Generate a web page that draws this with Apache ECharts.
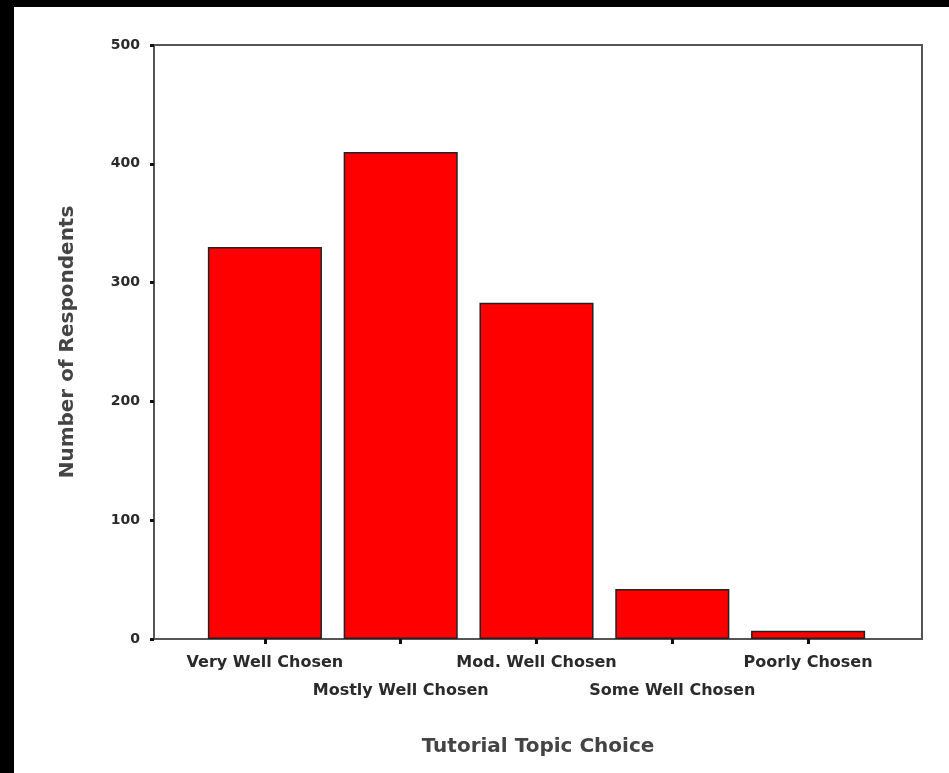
<!DOCTYPE html>
<html>
<head>
<meta charset="utf-8">
<script src="https://cdn.jsdelivr.net/npm/echarts@6/dist/echarts.min.js"></script>
<style>
html,body{margin:0;padding:0;background:#000;}
#wrap{position:absolute;left:14px;top:7px;right:0;bottom:0;background:#fff;}
#chart{position:absolute;left:0;top:0;width:949px;height:773px;}
</style>
</head>
<body>
<div id="wrap"></div>
<div id="chart"></div>
<script>
const categories = ["Very Well Chosen", "Mostly Well Chosen", "Mod. Well Chosen", "Some Well Chosen", "Poorly Chosen"];
const respondents = [330, 410, 283, 42, 7];
const yTicks = [0, 100, 200, 300, 400, 500];

const font = "DejaVu Sans";
const chart = echarts.init(document.getElementById('chart'), null, {renderer: 'canvas'});
chart.setOption({
  backgroundColor: 'transparent',
  animation: false,
  grid: [
    {left: 154, right: 27, top: 45, bottom: 134, show: false},
    {left: 197, right: 73, top: 45, bottom: 134, show: false}
  ],
  xAxis: [
    {
      gridIndex: 0, type: 'value', min: 0, max: 1,
      axisLine: {show: true, onZero: false, lineStyle: {color: '#555', width: 2}},
      axisTick: {show: false}, axisLabel: {show: false}, splitLine: {show: false},
      name: 'Tutorial Topic Choice', nameLocation: 'middle', nameGap: 98,
      nameTextStyle: {fontFamily: font, fontSize: 20, fontWeight: 'bold', color: '#444'}
    },
    {
      gridIndex: 0, type: 'value', min: 0, max: 1, position: 'top',
      axisLine: {show: true, onZero: false, lineStyle: {color: '#555', width: 2}},
      axisTick: {show: false}, axisLabel: {show: false}, splitLine: {show: false}
    },
    {
      gridIndex: 1, type: 'category', data: categories,
      axisLine: {show: false},
      axisTick: {show: true, alignWithLabel: true, length: 5, lineStyle: {color: '#111', width: 3}},
      axisLabel: {
        interval: 0, margin: 10, fontFamily: font, fontSize: 16, fontWeight: 'bold', color: '#2a2a2a',
        lineHeight: 28,
        formatter: function (v, i) { return i % 2 === 1 ? '\n' + v : v; }
      }
    }
  ],
  yAxis: [
    {
      gridIndex: 0, type: 'value', min: 0, max: 500, interval: 100,
      axisLine: {show: true, onZero: false, lineStyle: {color: '#555', width: 2}},
      axisTick: {show: true, length: 4, lineStyle: {color: '#111', width: 3}},
      axisLabel: {
        margin: 14, fontFamily: font, fontSize: 14, fontWeight: 'bold', color: '#2a2a2a',
        formatter: function (v) { return yTicks.indexOf(v) >= 0 ? String(v) : ''; }
      },
      splitLine: {show: false},
      name: 'Number of Respondents', nameLocation: 'middle', nameGap: 76,
      nameTextStyle: {fontFamily: font, fontSize: 20, fontWeight: 'bold', color: '#444'}
    },
    {
      gridIndex: 0, type: 'value', min: 0, max: 500, position: 'right',
      axisLine: {show: true, onZero: false, lineStyle: {color: '#555', width: 2}},
      axisTick: {show: false}, axisLabel: {show: false}, splitLine: {show: false}
    },
    {
      gridIndex: 1, type: 'value', min: 0, max: 500, show: false
    }
  ],
  series: [{
    type: 'bar', xAxisIndex: 2, yAxisIndex: 2,
    data: respondents, barWidth: '84%',
    itemStyle: {color: '#ff0000', borderColor: '#222', borderWidth: 1.5}
  }]
});
</script>
</body>
</html>
